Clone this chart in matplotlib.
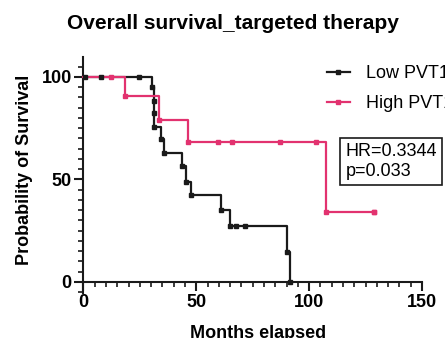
import matplotlib
matplotlib.use("Agg")
import matplotlib.pyplot as plt
from matplotlib.lines import Line2D
from matplotlib.ticker import MultipleLocator

plt.rcParams["font.family"] = ["Liberation Sans", "DejaVu Sans"]

# Kaplan-Meier steps (months, % surviving)
low_time = [0, 30.5, 31.2, 31.2, 31.2, 34.3, 35.7, 43.8, 45.4, 47.6, 60.9, 64.9, 90.3, 91.5]
low_surv = [100, 95.0, 88.3, 82.3, 75.8, 69.8, 62.8, 56.6, 48.9, 42.4, 35.1, 27.5, 14.8, 0]
low_cens_time = [0.7, 7.6, 24.6, 67.6, 71.6]
low_cens_surv = [100, 100, 100, 27.5, 27.5]

high_time = [0, 18.4, 33.5, 46.2, 107.4, 128.8]
high_surv = [100, 90.6, 79.0, 68.1, 34.3, 34.3]
high_cens_time = [12.0, 59.5, 65.7, 87.1, 103.0, 128.8]
high_cens_surv = [100, 68.1, 68.1, 68.1, 68.1, 34.3]

series_names = ["Low PVT1", "High PVT1"]
hr_text = "HR=0.3344\np=0.033"

BLACK = "#1a1a1a"
PINK = "#e2326f"

fig = plt.figure(figsize=(4.45, 3.38), dpi=100)
ax = fig.add_axes([0.1876, 0.1331, 0.7607, 0.6982])

for t, s, ct, cs, c in [
    (low_time, low_surv, low_cens_time, low_cens_surv, BLACK),
    (high_time, high_surv, high_cens_time, high_cens_surv, PINK),
]:
    ax.plot(t, s, drawstyle="steps-post", color=c, lw=1.6, clip_on=False, zorder=3)
    ax.plot(t[1:], s[1:], ls="none", marker="s", ms=3.2, color=c, clip_on=False, zorder=4)
    ax.plot(ct, cs, ls="none", marker="s", ms=3.2, color=c, clip_on=False, zorder=4)

ax.set_xlim(0, 150)
ax.set_ylim(-5.4, 109.7)
ax.spines["top"].set_visible(False)
ax.spines["right"].set_visible(False)
ax.spines["bottom"].set_position(("data", 0))
for sp in ("left", "bottom"):
    ax.spines[sp].set_linewidth(1.5)
    ax.spines[sp].set_color(BLACK)

ax.xaxis.set_major_locator(MultipleLocator(50))
ax.xaxis.set_minor_locator(MultipleLocator(5))
ax.yaxis.set_minor_locator(MultipleLocator(5))
ax.set_yticks([0, 50, 100])
ax.tick_params(which="major", length=6.5, width=1.5, color=BLACK, labelsize=13, pad=2)
ax.tick_params(which="minor", length=3.6, width=1.2, color=BLACK)
for lab in ax.get_xticklabels() + ax.get_yticklabels():
    lab.set_fontweight("bold")

ax.set_xlabel("Months elapsed", fontsize=13, fontweight="bold")
ax.xaxis.set_label_coords(0.515, -0.137)
ax.set_ylabel("Probability of Survival", fontsize=13, fontweight="bold", va="center")
ax.yaxis.set_label_coords(-0.173, 0.521)
fig.text(0.524, 1 - 29 / 338, "Overall survival_targeted therapy", ha="center",
         va="baseline", fontsize=15, fontweight="bold")

handles = [
    Line2D([], [], color=BLACK, lw=1.6, marker="s", ms=3.2),
    Line2D([], [], color=PINK, lw=1.6, marker="s", ms=3.2),
]
ax.legend(handles, series_names, loc="upper left", bbox_to_anchor=(0.734, 0.808),
          bbox_transform=fig.transFigure, frameon=False, fontsize=13,
          handlelength=1.3, handletextpad=0.9, labelspacing=0.75, borderpad=0,
          borderaxespad=0)

fig.text(0.776, 0.522, hr_text, ha="left", va="center", fontsize=13,
         bbox=dict(boxstyle="square,pad=0.3", facecolor="white", edgecolor=BLACK, lw=1.2))

fig.savefig("out.png", dpi=100)
